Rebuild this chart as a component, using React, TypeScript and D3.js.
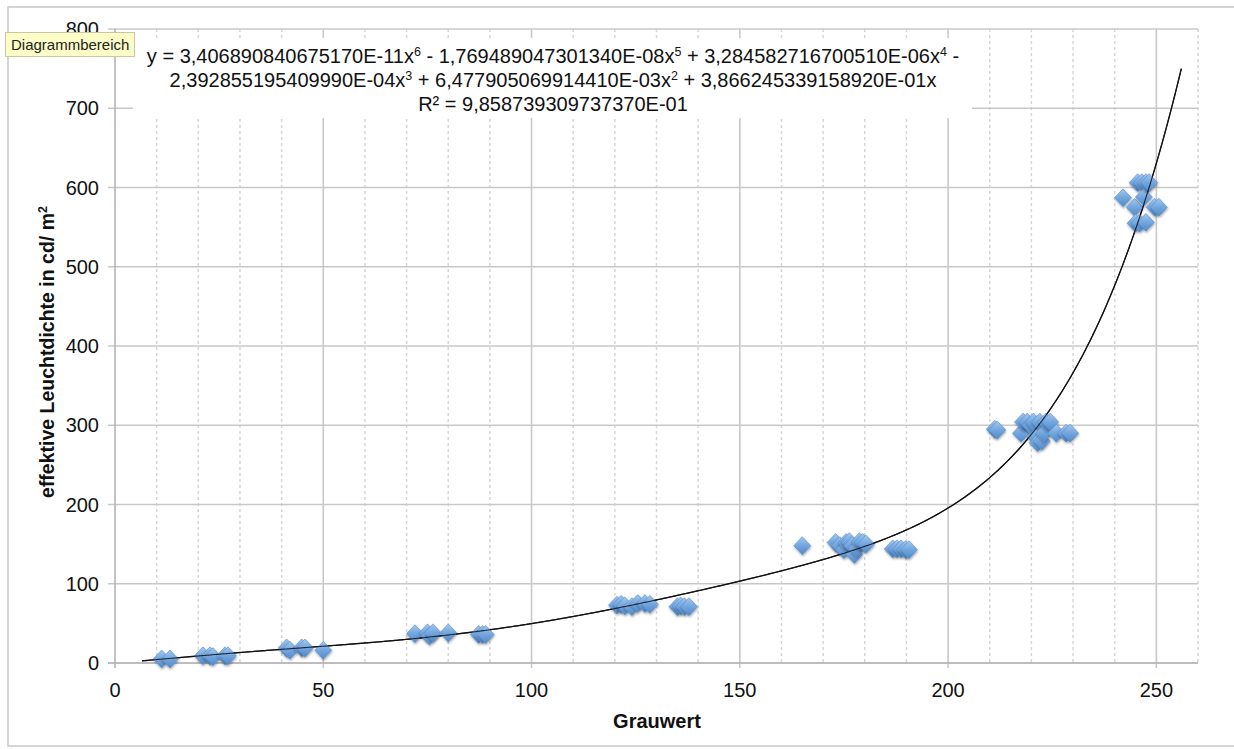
import React from "react";
import * as d3 from "d3";

const W = 1234;
const H = 749;

// Scatter data (Grauwert, effektive Leuchtdichte)
const grauwert = [
  11.2, 13.2,
  21.1, 22.8, 23.5, 26.4, 27.1,
  41.2, 42, 44.8, 45.6, 50,
  72, 75, 75.5, 76.3, 80, 87.3, 88.2, 89,
  120.5, 121.5, 122.4, 124.1, 125.5, 127.2, 128.4, 135, 135.8, 136.7, 137.8,
  165,
  173, 174, 175, 175.5, 176.3, 177, 177.5, 178, 178.7, 179.5, 180.3,
  186.7, 187.7, 188.7, 189.8, 190.6,
  211.2, 211.8,
  217.5, 218, 219, 219.8, 220.5, 221, 221.5, 222, 222.5, 223, 223.5, 224.5, 226, 228.3, 229.3,
  242, 244.8, 245, 246, 245.5, 246.5, 247, 247.5, 248.3, 249.6, 250.6, 247.5,
];
const leuchtdichte = [
  5, 5,
  9, 9, 8, 9, 9,
  19, 16, 19, 19, 16,
  37, 38, 34, 38, 38, 36, 36, 36,
  73, 74, 72, 71, 75, 75, 74, 71, 72, 71, 71,
  148,
  152, 148, 143, 152, 153, 148, 137, 145, 153, 152, 150,
  144, 144, 144, 143, 143,
  295, 294,
  290, 304, 304, 300, 304, 285, 278, 304, 280, 290, 304, 304, 290, 290, 290,
  587, 575, 555, 555, 606, 606, 588, 606, 606, 575, 575, 556,
];

// Trendline coefficients as printed on the chart (x^6 .. x^1)
const coefficients = [
  3.40689084067517e-11, -1.76948904730134e-8, 3.28458271670051e-6,
  -2.39285519540999e-4, 6.47790506991441e-3, 3.86624533915892e-1,
];
const trendStart = 6.5;
const trendEnd = 256;

const xTicks = [0, 50, 100, 150, 200, 250];
const xMinorTicks = d3.range(10, 261, 10).filter((v) => v % 50 !== 0);
const yTicks = [0, 100, 200, 300, 400, 500, 600, 700, 800];

const eqLine1: [string, string][] = [
  ["y = 3,406890840675170E-11x", "6"],
  [" - 1,769489047301340E-08x", "5"],
  [" + 3,284582716700510E-06x", "4"],
  [" -", ""],
];
const eqLine2: [string, string][] = [
  ["2,392855195409990E-04x", "3"],
  [" + 6,477905069914410E-03x", "2"],
  [" + 3,866245339158920E-01x", ""],
];
const eqLine3 = "R² = 9,858739309737370E-01";

const FONT = "'Liberation Sans', Arial, Helvetica, sans-serif";
const FS = 20;

function EqLine({ parts, x, y }: { parts: [string, string][]; x: number; y: number }) {
  return (
    <text x={x} y={y} textAnchor="middle" fontSize={FS} fontFamily={FONT} fill="#111">
      {parts.map(([t, s], i) => (
        <React.Fragment key={i}>
          <tspan>{t}</tspan>
          {s ? (
            <tspan fontSize={12.5} baselineShift="7">
              {s}
            </tspan>
          ) : null}
        </React.Fragment>
      ))}
    </text>
  );
}

export default function App() {
  const x = d3.scaleLinear().domain([0, 260]).range([115, 1198]);
  const y = d3.scaleLinear().domain([0, 800]).range([663, 29]);

  const poly = (v: number) =>
    coefficients.reduce((acc, c, i) => acc + c * Math.pow(v, 6 - i), 0);
  const trendX = d3.range(trendStart, trendEnd + 0.001, 0.5);
  const line = d3
    .line<number>()
    .x((v) => x(v))
    .y((v) => y(poly(v)))
    .curve(d3.curveMonotoneX);

  const diamond = "M0,-9 L8.5,0 L0,9 L-8.5,0 Z";

  return (
    <svg
      width={W}
      height={H}
      style={{ position: "absolute", left: 0, top: 0, background: "#fff" }}
    >
      <defs>
        <linearGradient id="dg" x1="0" y1="0" x2="0" y2="1">
          <stop offset="0" stopColor="#a2c8f0" />
          <stop offset="0.5" stopColor="#72a6de" />
          <stop offset="1" stopColor="#5089c9" />
        </linearGradient>
        <filter id="sh" x="-50%" y="-50%" width="200%" height="200%">
          <feDropShadow dx="0.5" dy="1.5" stdDeviation="1" floodColor="#000" floodOpacity="0.35" />
        </filter>
      </defs>

      {/* outer chart area border */}
      <rect x={8} y={7} width={1240} height={739} fill="#fff" stroke="#c8c8c8" strokeWidth={1.5} />

      {/* minor vertical gridlines */}
      {xMinorTicks.map((t) => (
        <line
          key={"mx" + t}
          x1={x(t)}
          x2={x(t)}
          y1={y(800)}
          y2={y(0)}
          stroke="#d6d6d6"
          strokeWidth={1.5}
          strokeDasharray="3,3"
        />
      ))}
      {/* major vertical gridlines */}
      {xTicks.slice(1).map((t) => (
        <line key={"x" + t} x1={x(t)} x2={x(t)} y1={y(800)} y2={y(0) + 5} stroke="#c8c8c8" strokeWidth={1.6} />
      ))}
      {/* horizontal gridlines */}
      {yTicks.map((t) => (
        <line key={"y" + t} x1={x(0) - 7} x2={x(260)} y1={y(t)} y2={y(t)} stroke="#c8c8c8" strokeWidth={1.6} />
      ))}
      {/* axes */}
      <line x1={x(0)} x2={x(0)} y1={y(800)} y2={y(0) + 5} stroke="#b4b4b4" strokeWidth={1.6} />
      <line x1={x(0) - 7} x2={x(260)} y1={y(0)} y2={y(0)} stroke="#b4b4b4" strokeWidth={1.6} />

      {/* equation label background */}
      <rect x={133} y={38} width={839} height={80} fill="#fff" />

      {/* trendline */}
      <path d={line(trendX) || ""} fill="none" stroke="#111" strokeWidth={1.3} />

      {/* scatter */}
      {grauwert.map((g, i) => (
        <path
          key={"p" + i}
          d={diamond}
          transform={`translate(${x(g)},${y(leuchtdichte[i])})`}
          fill="url(#dg)"
          stroke="#5a8fcf"
          strokeWidth={0.6}
          filter="url(#sh)"
        />
      ))}

      {/* re-draw trendline lightly over points */}
      <path d={line(trendX) || ""} fill="none" stroke="#111" strokeWidth={1.1} opacity={0.85} />

      {/* tick labels */}
      {xTicks.map((t) => (
        <text key={"xl" + t} x={x(t)} y={697} textAnchor="middle" fontSize={FS} fontFamily={FONT} fill="#111">
          {t}
        </text>
      ))}
      {yTicks.map((t) => (
        <text key={"yl" + t} x={99} y={y(t) + 7} textAnchor="end" fontSize={FS} fontFamily={FONT} fill="#111">
          {t}
        </text>
      ))}

      {/* axis titles */}
      <text x={657} y={728} textAnchor="middle" fontSize={FS} fontWeight="bold" fontFamily={FONT} fill="#111">
        Grauwert
      </text>
      <text
        transform="translate(54,352) rotate(-90)"
        textAnchor="middle"
        fontSize={19.5}
        fontWeight="bold"
        fontFamily={FONT}
        fill="#111"
      >
        effektive Leuchtdichte in cd/ m<tspan fontSize={12.5} baselineShift="7">2</tspan>
      </text>

      {/* equation */}
      <EqLine parts={eqLine1} x={553} y={63} />
      <EqLine parts={eqLine2} x={553} y={87} />
      <text x={553} y={111} textAnchor="middle" fontSize={FS} fontFamily={FONT} fill="#111">
        {eqLine3}
      </text>

      {/* tooltip */}
      <rect x={5.5} y={32.5} width={129} height={24} fill="#fdfdc8" stroke="#c9c9a0" strokeWidth={1} />
      <text x={11} y={50} fontSize={15} fontFamily={FONT} fill="#222">
        Diagrammbereich
      </text>
    </svg>
  );
}
